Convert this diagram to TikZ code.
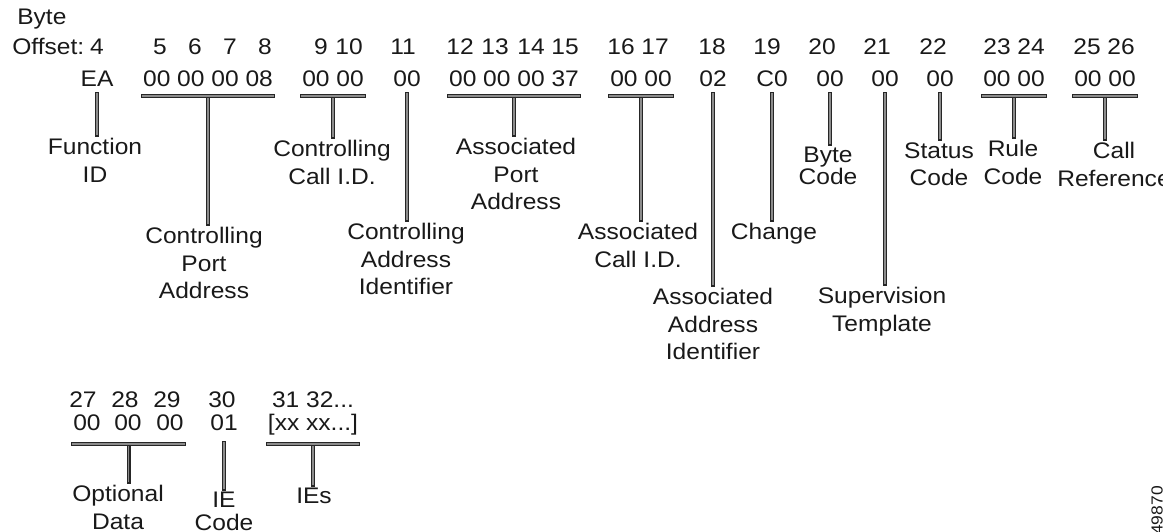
\documentclass[tikz,border=0pt]{standalone}
\usepackage{fontspec}
\setmainfont{Liberation Sans}[FakeStretch=1.09]
\usetikzlibrary{calc}

\tikzset{
  bar/.style={draw=black!85, line width=0.9pt, double=black!45, double distance=1.2pt, line cap=rect},
  num/.style={inner sep=0pt, anchor=base},
  lbl/.style={inner sep=0pt, anchor=north, align=center},
}

\begin{document}
\begin{tikzpicture}[x=0.75pt, y=-0.75pt, font=\fontsize{16.9}{20.6}\selectfont, text=black!90]
    \useasboundingbox (0,0) rectangle (1176,531);
    \clip (0,0) rectangle (1162,531);

    % byte offsets
    \node[num, anchor=base west] (byte) at (17,25) {Byte};
    \node[num, anchor=base west] (offset) at (12,55) {Offset:};
    \foreach \n/\x in {4/97,5/160,6/195,7/230,8/265,9/321,10/349,11/403,12/460,13/495,14/531,15/565,
        16/621,17/655,18/712,19/767,20/822,21/877,22/933,23/997,24/1031,25/1087,26/1121} {
        \node[num] (o\n) at (\x,55) {\n};
    }
    \foreach \n/\x in {27/83,28/125,29/167,30/222} {
        \node[num] (o\n) at (\x,407) {\n};
    }
    \node[num] (o31) at (313,407) {31 32...};

    % byte values
    \foreach \n/\x/\t in {4/97/EA,5/208/{00 00 00 08},9/333/{00 00},11/407/00,12/514/{00 00 00 37},
        16/641/{00 00},18/713/02,19/772/C0,20/830/00,21/885/00,22/940/00,23/1014/{00 00},25/1105/{00 00}} {
        \node[num] (v\n) at (\x,87) {\t};
    }
    \foreach \n/\x/\t in {27/87/00,28/128/00,29/170/00,30/224/01,31/313/{[xx xx...]}} {
        \node[num] (v\n) at (\x,430) {\t};
    }

    % field names
    \node[lbl] (l4) at (95,138) {Function\\ID};
    \node[lbl] (l5) at (204,227) {Controlling\\Port\\Address};
    \node[lbl] (l9) at (332,140) {Controlling\\Call I.D.};
    \node[lbl] (l11) at (406,223) {Controlling\\Address\\Identifier};
    \node[lbl] (l12) at (516,138) {Associated\\Port\\Address};
    \node[lbl] (l16) at (638,223) {Associated\\Call I.D.};
    \node[lbl] (l18) at (713,288) {Associated\\Address\\Identifier};
    \node[lbl] (l19) at (774,223) {Change};
    \node[lbl, font=\fontsize{16.9}{16.5}\selectfont] (l20) at (828,147) {Byte\\Code};
    \node[lbl] (l21) at (882,287) {Supervision\\Template};
    \node[lbl] (l22) at (939,142) {Status\\Code};
    \node[lbl] (l23) at (1013,140) {Rule\\Code};
    \node[lbl] (l25) at (1114,142) {Call\\Reference};
    \node[lbl] (l27) at (118,485) {Optional\\Data};
    \node[lbl, font=\fontsize{16.9}{17.25}\selectfont] (l30) at (224,492) {IE\\Code};
    \node[lbl] (l31) at (314,488) {IEs};

    \node[rotate=90, anchor=east, inner sep=0pt, font=\fontsize{12}{14}\selectfont] (fig) at (1157,486) {49870};

    % single bytes
    \foreach \n in {4,11,18,19,20,21,22} {
        \draw[bar, shorten >=2.5pt] ([yshift=-5.25pt]v\n.base) -- (v\n.base |- l\n.north);
    }
    \draw[bar, shorten >=2.5pt] ([yshift=-9.75pt]v30.base) -- (v30.base |- l30.north);

    % byte groups
    \foreach \a/\b/\l/\s in {5/5/5/6.75,9/9/9/6.75,12/12/12/6.75,16/16/16/6.75,23/23/23/6.75,
        25/25/25/6.75,27/29/27/10.5,31/31/31/10.5} {
        \coordinate (p) at ([yshift=-\s pt]v\a.base west);
        \coordinate (q) at ([yshift=-\s pt]v\b.base east);
        \coordinate (m) at ($(p)!.5!(q)$);
        \draw[bar, shorten >=2.5pt] (m) -- (m |- l\l.north);
        \draw[bar] (p) -- (q);
    }
\end{tikzpicture}
\end{document}
